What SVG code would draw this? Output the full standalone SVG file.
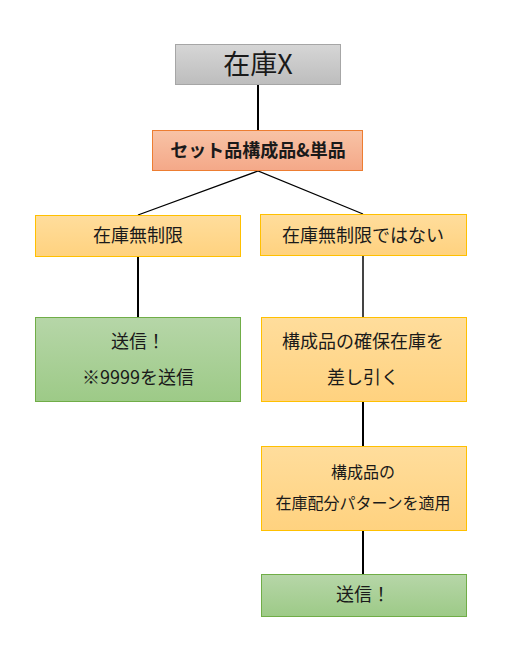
<svg xmlns="http://www.w3.org/2000/svg" width="507" height="655" viewBox="0 0 507 655">
<defs>
<linearGradient id="gGray" x1="0" y1="0" x2="0" y2="1"><stop offset="0" stop-color="#d6d6d6"/><stop offset="1" stop-color="#bdbdbd"/></linearGradient>
<linearGradient id="gOrange" x1="0" y1="0" x2="0" y2="1"><stop offset="0" stop-color="#f8c3a6"/><stop offset="1" stop-color="#f4a888"/></linearGradient>
<linearGradient id="gYellow" x1="0" y1="0" x2="0" y2="1"><stop offset="0" stop-color="#ffdd9c"/><stop offset="1" stop-color="#ffd27f"/></linearGradient>
<linearGradient id="gGreen" x1="0" y1="0" x2="0" y2="1"><stop offset="0" stop-color="#b6d6a8"/><stop offset="1" stop-color="#9dca87"/></linearGradient>
</defs>
<style>
text{font-family:"Noto Sans CJK JP","Noto Sans",sans-serif;fill:#1a1a1a;text-anchor:middle}
.gray{fill:url(#gGray);stroke:#a6a6a6;stroke-width:1}
.orange{fill:url(#gOrange);stroke:#ed7d31;stroke-width:1}
.yellow{fill:url(#gYellow);stroke:#ffc000;stroke-width:1}
.green{fill:url(#gGreen);stroke:#70ad47;stroke-width:1}
.c{stroke:#000;stroke-width:2;fill:none}
.d{stroke:#000;stroke-width:1.3;fill:none}
.t{font-size:18px}
.s{font-size:16px}
</style>
<g id="connectors">
<line class="c" x1="258" y1="84" x2="258" y2="130"/>
<polyline class="d" points="138,215 258,171 363,214"/>
<line class="c" x1="138" y1="256" x2="138" y2="317"/>
<line class="c" x1="363" y1="256" x2="363" y2="317" style="stroke:#444"/>
<line class="c" x1="363" y1="401" x2="363" y2="446"/>
<line class="c" x1="363" y1="530" x2="363" y2="574"/>
</g>
<g id="zaikoX"><rect class="gray" x="175.5" y="44.5" width="165" height="40"/><text x="258" y="74" style="font-size:27px">在庫X</text></g>
<g id="set"><rect class="orange" x="152.5" y="130.5" width="210" height="40"/><text x="258" y="157" style="font-size:18px;font-weight:bold">セット品構成品&amp;単品</text></g>
<g id="unlimited"><rect class="yellow" x="35.5" y="215.5" width="205" height="41"/><text class="t" x="138" y="242">在庫無制限</text></g>
<g id="notUnlimited"><rect class="yellow" x="260.5" y="214.5" width="206" height="41"/><text class="t" x="363" y="242">在庫無制限ではない</text></g>
<g id="sendLeft"><rect class="green" x="35.5" y="317.5" width="205" height="84"/><text class="t" x="138" y="348">送信！</text><text class="t" x="138" y="384">※9999を送信</text></g>
<g id="subtract"><rect class="yellow" x="261.5" y="317.5" width="205" height="84"/><text class="t" x="363" y="348">構成品の確保在庫を</text><text class="t" x="363" y="384">差し引く</text></g>
<g id="pattern"><rect class="yellow" x="261.5" y="446.5" width="205" height="84"/><text class="s" x="363" y="478">構成品の</text><text class="s" x="363" y="509">在庫配分パターンを適用</text></g>
<g id="sendRight"><rect class="green" x="261.5" y="574.5" width="205" height="42"/><text class="t" x="363" y="601">送信！</text></g>
</svg>
